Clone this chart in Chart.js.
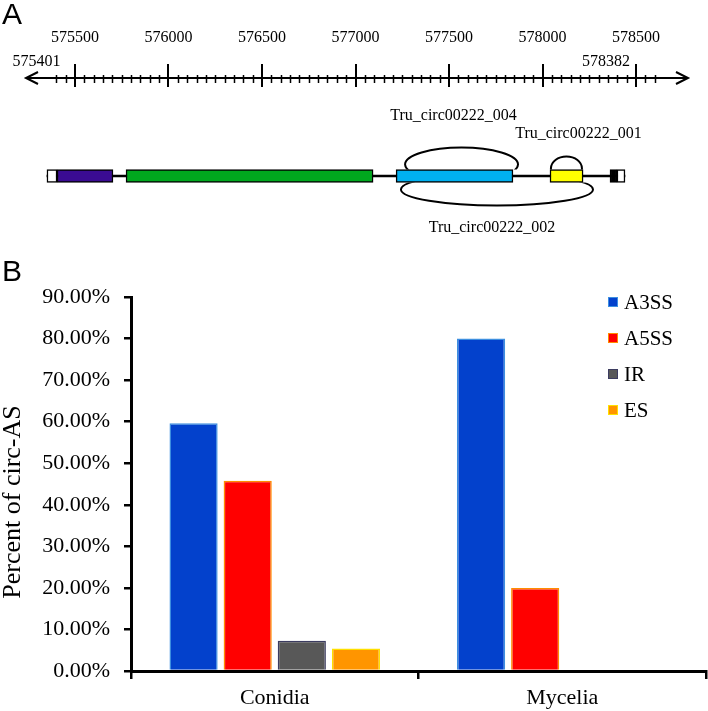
<!DOCTYPE html>
<html>
<head>
<meta charset="utf-8">
<title>circ-AS</title>
<script src="https://cdn.jsdelivr.net/npm/chart.js@4.4.0/dist/chart.umd.min.js"></script>
<style>
  body { margin: 0; background: #fff; }
  #wrap { position: relative; width: 708px; height: 711px; overflow: hidden; background: #fff; }
  canvas { position: absolute; left: 0; }
  #geneCanvas { top: 0; }
  #barCanvas { top: 240px; }
  .panel { position: absolute; font-family: "Liberation Sans", Arial, sans-serif; font-size: 30px; line-height: 1; color: #000; }
</style>
</head>
<body>
<div id="wrap">
  <canvas id="geneCanvas" width="708" height="240"></canvas>
  <canvas id="barCanvas" width="708" height="471"></canvas>
  <div class="panel" style="left:2px;top:-1px">A</div>
  <div class="panel" style="left:2px;top:256px">B</div>
</div>
<script>
// ---- panel A: gene model ----
const rulerLabels = [575500, 576000, 576500, 577000, 577500, 578000, 578500];
const rulerEnds = [575401, 578382];
const exonStarts = [575350, 575404, 575773, 577217, 578040, 578361, 578398];
const exonEnds = [575404, 575703, 577094, 577842, 578217, 578398, 578441];
const circNames = ['Tru_circ00222_004', 'Tru_circ00222_001', 'Tru_circ00222_002'];
const circStarts = [577265, 578045, 577243];
const circEnds = [577869, 578211, 578270];
const circSides = ['up', 'up', 'down'];

// ---- panel B: bar chart ----
const tissues = ['Conidia', 'Mycelia'];
const asTypes = ['A3SS', 'A5SS', 'IR', 'ES'];
const a3ss = [59.6, 80.0];
const a5ss = [45.8, 20.0];
const ir = [7.3, 0];
const es = [5.4, 0];
const percentTicks = [0, 10, 20, 30, 40, 50, 60, 70, 80, 90];

// styles
const exonColors = ['#ffffff', '#3a0b93', '#00a81e', '#00b0f0', '#ffff00', '#000000', '#ffffff'];
const arcShape = [{ h: 22, ry: 17 }, { h: 13, ry: 12 }, { h: 23, ry: 16 }];
const circLabelDx = [-8, 12, -5];
const circLabelGap = [32, 23, 22];
const barFill = ['#0341cc', '#ff0000', '#585858', '#ff9500'];
const barEdge = ['#3d8fe0', '#ff8c00', '#3c3c60', '#ffe000'];

const serif = '"Liberation Serif", "Times New Roman", serif';
Chart.defaults.font.family = serif;
Chart.defaults.color = '#000';

const GENE_Y = 0;     // y value of the gene line
const RULER_Y = 98;   // y value of the ruler line
const BOX = 13;       // exon box height

const genePlugin = {
    id: 'genePlugin',
    afterDatasetsDraw(chart) {
        const ctx = chart.ctx;
        const xs = chart.scales.x;
        const ys = chart.scales.y;
        const area = chart.chartArea;
        const yr = ys.getPixelForValue(RULER_Y);
        const yg = ys.getPixelForValue(GENE_Y);

        ctx.save();
        ctx.strokeStyle = '#000';
        ctx.lineWidth = 2;

        // ruler line with arrows
        ctx.beginPath();
        ctx.moveTo(area.left, yr);
        ctx.lineTo(area.right, yr);
        ctx.moveTo(area.left + 12, yr - 6);
        ctx.lineTo(area.left, yr);
        ctx.lineTo(area.left + 12, yr + 6);
        ctx.moveTo(area.right - 12, yr - 6);
        ctx.lineTo(area.right, yr);
        ctx.lineTo(area.right - 12, yr + 6);
        ctx.stroke();

        // minor ticks every 50 bp
        ctx.lineWidth = 1.5;
        ctx.beginPath();
        for (let v = rulerLabels[0] - 100; v <= rulerLabels[rulerLabels.length - 1] + 100; v += 50) {
            if (v % 500 === 0) continue;
            const x = Math.round(xs.getPixelForValue(v)) + 0.5;
            ctx.moveTo(x, yr - 3);
            ctx.lineTo(x, yr + 5);
        }
        ctx.stroke();

        // major ticks
        ctx.lineWidth = 2;
        ctx.beginPath();
        rulerLabels.forEach(v => {
            const x = Math.round(xs.getPixelForValue(v));
            ctx.moveTo(x, yr - 14);
            ctx.lineTo(x, yr + 9);
        });
        ctx.stroke();

        // gene end coordinates
        ctx.fillStyle = '#000';
        ctx.font = '16px ' + serif;
        ctx.textAlign = 'center';
        ctx.textBaseline = 'middle';
        ctx.fillText(String(rulerEnds[0]), xs.getPixelForValue(rulerEnds[0]) - 20, yr - 16);
        ctx.fillText(String(rulerEnds[1]), xs.getPixelForValue(rulerEnds[1]) - 8, yr - 16);

        // back-splicing arcs
        const boxTop = yg - BOX / 2;
        const boxBot = yg + BOX / 2;
        ctx.lineWidth = 2;
        ctx.font = '16px ' + serif;
        circNames.forEach((name, i) => {
            const x0 = xs.getPixelForValue(circStarts[i]);
            const x1 = xs.getPixelForValue(circEnds[i]);
            const cx = (x0 + x1) / 2;
            const rx = (x1 - x0) / 2;
            const s = arcShape[i];
            const up = circSides[i] === 'up';
            const cy = up ? boxTop - s.h + s.ry : boxBot + s.h - s.ry;
            ctx.save();
            ctx.beginPath();
            if (up) ctx.rect(0, 0, chart.width, boxTop);
            else ctx.rect(0, boxBot, chart.width, chart.height - boxBot);
            ctx.clip();
            ctx.beginPath();
            ctx.ellipse(cx, cy, rx, s.ry, 0, 0, Math.PI * 2);
            ctx.stroke();
            ctx.restore();
            const ly = up ? boxTop - s.h - circLabelGap[i] : boxBot + s.h + circLabelGap[i];
            ctx.fillText(name, cx + circLabelDx[i], ly);
        });
        ctx.restore();
    }
};

new Chart(document.getElementById('geneCanvas'), {
    type: 'bar',
    data: {
        datasets: [
            {
                label: 'exons',
                data: exonStarts.map((s, i) => ({ x: [s, exonEnds[i]], y: GENE_Y })),
                backgroundColor: exonColors,
                borderColor: '#000',
                borderWidth: 1.5,
                borderSkipped: false,
                barThickness: BOX,
                grouped: false,
                order: 1
            },
            {
                label: 'intron',
                data: [{ x: [exonStarts[0], exonEnds[exonEnds.length - 1]], y: GENE_Y }],
                backgroundColor: '#000',
                borderWidth: 0,
                barThickness: 2,
                grouped: false,
                order: 2
            }
        ]
    },
    options: {
        indexAxis: 'y',
        responsive: false,
        animation: false,
        layout: { padding: { top: 20, left: 26, right: 20, bottom: 0 } },
        plugins: { legend: { display: false }, tooltip: { enabled: false } },
        scales: {
            x: {
                type: 'linear',
                position: 'top',
                min: 575238,
                max: 578778,
                afterBuildTicks: s => { s.ticks = rulerLabels.map(v => ({ value: v })); },
                afterFit: s => { s.height = 30; },
                grid: { display: false, drawTicks: false },
                border: { display: false },
                ticks: {
                    padding: 3,
                    autoSkip: false,
                    maxRotation: 0,
                    font: { size: 16 },
                    callback: v => String(v)
                }
            },
            y: { type: 'linear', display: false, offset: false, grace: 0, min: -64, max: 126 }
        }
    },
    plugins: [genePlugin]
});

// legend drawn over the plot, top right
const sideLegend = {
    id: 'sideLegend',
    afterDraw(chart) {
        const ctx = chart.ctx;
        ctx.save();
        ctx.font = '21px ' + serif;
        ctx.textBaseline = 'middle';
        ctx.textAlign = 'left';
        chart.data.datasets.forEach((ds, i) => {
            const y = 62 + i * 36;
            ctx.fillStyle = ds.backgroundColor;
            ctx.fillRect(608, y - 5, 10, 10);
            ctx.strokeStyle = ds.borderColor;
            ctx.lineWidth = 1;
            ctx.strokeRect(608.5, y - 4.5, 9, 9);
            ctx.fillStyle = '#000';
            ctx.fillText(ds.label, 624, y + 1);
        });
        ctx.restore();
    }
};

// y axis title placed like the original
const yTitle = {
    id: 'yTitle',
    afterDraw(chart) {
        const ctx = chart.ctx;
        ctx.save();
        ctx.translate(13, 262);
        ctx.rotate(-Math.PI / 2);
        ctx.font = '26px ' + serif;
        ctx.fillStyle = '#000';
        ctx.textAlign = 'center';
        ctx.textBaseline = 'middle';
        ctx.fillText('Percent of circ-AS', 0, 0);
        ctx.restore();
    }
};

const seriesValues = [a3ss, a5ss, ir, es];

new Chart(document.getElementById('barCanvas'), {
    type: 'bar',
    data: {
        labels: tissues,
        datasets: asTypes.map((name, i) => ({
            label: name,
            data: seriesValues[i],
            backgroundColor: barFill[i],
            borderColor: barEdge[i],
            borderWidth: 1.5
        }))
    },
    options: {
        responsive: false,
        animation: false,
        categoryPercentage: 0.753,
        barPercentage: 0.89,
        layout: { padding: { top: 57, left: 0, right: 2, bottom: 0 } },
        plugins: { legend: { display: false }, tooltip: { enabled: false } },
        scales: {
            x: {
                afterFit: s => { s.height = 40; },
                grid: { offset: true, drawOnChartArea: false, tickLength: 8, color: '#000', lineWidth: 2.5 },
                border: { color: '#000', width: 3 },
                ticks: { padding: 6, font: { size: 22 } }
            },
            y: {
                min: 0,
                max: 90,
                afterBuildTicks: s => { s.ticks = percentTicks.map(v => ({ value: v })); },
                afterFit: s => { s.width = 131; },
                grid: { drawOnChartArea: false, tickLength: 7, color: '#000', lineWidth: 2.5 },
                border: { color: '#000', width: 3 },
                ticks: { padding: 14, font: { size: 22 }, callback: v => v.toFixed(2) + '%' }
            }
        }
    },
    plugins: [sideLegend, yTitle]
});
</script>
</body>
</html>
